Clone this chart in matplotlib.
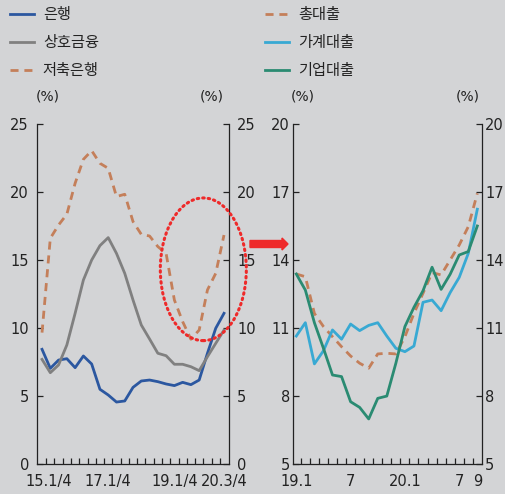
import matplotlib.pyplot as plt
import numpy as np
from matplotlib.patches import Ellipse, FancyArrow
from matplotlib.lines import Line2D

# Left panel: quarterly, 15.1/4 .. 20.3/4 (YoY growth, %)
bank = [8.44, 7.04, 7.65, 7.75, 7.09, 7.95, 7.36, 5.50, 5.08, 4.56, 4.64, 5.64,
        6.11, 6.18, 6.06, 5.89, 5.77, 6.01, 5.84, 6.18, 8.15, 9.99, 11.09]
mutual = [7.70, 6.72, 7.29, 8.76, 11.09, 13.54, 15.01, 16.07, 16.66, 15.50, 14.03, 12.07,
          10.23, 9.20, 8.15, 7.97, 7.34, 7.34, 7.16, 6.87, 7.90, 8.88, 9.86]
savings = [9.67, 16.61, 17.59, 18.38, 20.66, 22.42, 23.06, 22.13, 21.76, 19.68, 19.85, 17.84,
           16.90, 16.78, 16.00, 15.50, 12.07, 10.48, 9.18, 9.86, 12.81, 14.03, 16.85]
left_labels = ["15.1/4", "17.1/4", "19.1/4", "20.3/4"]
left_label_pos = [0.8, 8, 16, 22]

# Right panel: monthly, 19.1 .. 20.9 (savings bank loans, %)
total = [13.39, 13.27, 11.65, 11.07, 10.62, 10.18, 9.77, 9.45, 9.23, 9.86, 9.89,
         9.86, 10.62, 11.65, 12.54, 13.45, 13.35, 14.01, 14.67, 15.48, 16.95]
household = [10.65, 11.24, 9.42, 10.00, 10.92, 10.51, 11.18, 10.89, 11.12, 11.24, 10.65,
             10.11, 9.96, 10.21, 12.14, 12.24, 11.77, 12.57, 13.24, 14.30, 16.25]
corporate = [13.39, 12.68, 11.24, 10.11, 8.93, 8.86, 7.75, 7.50, 6.99, 7.90, 8.00,
             9.45, 11.07, 11.92, 12.65, 13.69, 12.71, 13.38, 14.23, 14.38, 15.51]
right_labels = ["19.1", "7", "20.1", "7", "9"]
right_label_pos = [0, 6, 12, 18, 20]

BG = "#D3D4D6"
C_BANK = "#2B57A0"
C_MUT = "#808080"
C_ORG = "#C47F5A"
C_HH = "#38A9D3"
C_CORP = "#2A8B72"
NUM_FONT = ["Liberation Sans Narrow", "DejaVu Sans"]
KR_FONT = ["Noto Sans CJK KR", "DejaVu Sans"]
DASH = (0, (2.9, 2.1))
LW = 2.0

fig = plt.figure(figsize=(5.05, 4.94), dpi=100, facecolor=BG)
ax1 = fig.add_axes([0.0739, 0.0607, 0.379, 0.6877], facecolor=BG)
ax2 = fig.add_axes([0.5808, 0.0607, 0.373, 0.6877], facecolor=BG)

xl = np.arange(len(bank))
ax1.plot(xl, bank, color=C_BANK, lw=LW)
ax1.plot(xl, mutual, color=C_MUT, lw=LW)
ax1.plot(xl, savings, color=C_ORG, lw=LW, linestyle=DASH)
ax1.set_xlim(-0.57, 22.57)
ax1.set_ylim(0, 25)
ax1.set_yticks([0, 5, 10, 15, 20, 25])
ax1.set_xticks(left_label_pos)
ax1.set_xticklabels(left_labels)
ax1.set_xticks(np.arange(len(bank) - 1) + 0.5, minor=True)

# highlight ellipse
ax1.add_patch(Ellipse((19.5, 14.33), 10.4, 10.5, fill=False, edgecolor="#EE2A2A",
                      lw=2.2, linestyle=(0, (0.5, 1.3)), capstyle="round",
                      clip_on=False, zorder=5))

xr = np.arange(len(total))
ax2.plot(xr, total, color=C_ORG, lw=LW, linestyle=DASH)
ax2.plot(xr, household, color=C_HH, lw=LW)
ax2.plot(xr, corporate, color=C_CORP, lw=LW)
ax2.set_xlim(-0.33, 20.48)
ax2.set_ylim(5, 20)
ax2.set_yticks([5, 8, 11, 14, 17, 20])
ax2.set_xticks(right_label_pos)
ax2.set_xticklabels(right_labels)
ax2.set_xticks(np.arange(len(total) - 1) + 0.5, minor=True)

for ax in (ax1, ax2):
    ax.spines["top"].set_visible(False)
    for s in ("left", "right", "bottom"):
        ax.spines[s].set_color("#222222")
        ax.spines[s].set_linewidth(0.9)
    ax.tick_params(axis="y", which="major", direction="in", length=4, width=0.9,
                   left=True, right=True, labelleft=True, labelright=True,
                   labelsize=10.5, pad=6, colors="#222222")
    ax.tick_params(axis="x", which="major", length=0, labelsize=10.5, pad=7,
                   colors="#222222")
    ax.tick_params(axis="x", which="minor", direction="in", length=4, width=0.9,
                   colors="#222222")
    for lab in ax.get_xticklabels() + ax.get_yticklabels():
        lab.set_family(NUM_FONT)
    for t in ax.yaxis.get_major_ticks():
        t.label2.set_family(NUM_FONT)

# right-hand labels of the right panel sit close to the edge
ax2.tick_params(axis="y", which="major", pad=2.5)

# (%) unit labels
for xp in (48, 212, 303, 468):
    fig.text(xp / 505, 1 - 97 / 494, "(%)", ha="center", va="center",
             fontsize=10, family=NUM_FONT, color="#222222")

# arrow between panels
fig.add_artist(FancyArrow(2.50, 2.50, 0.38, 0, width=0.07, head_width=0.12,
                          head_length=0.06, length_includes_head=True,
                          color="#EE2A2A", transform=fig.dpi_scale_trans))

# legends
h_left = [Line2D([], [], color=C_BANK, lw=LW),
          Line2D([], [], color=C_MUT, lw=LW),
          Line2D([], [], color=C_ORG, lw=LW, linestyle=DASH)]
h_right = [Line2D([], [], color=C_ORG, lw=LW, linestyle=DASH),
           Line2D([], [], color=C_HH, lw=LW),
           Line2D([], [], color=C_CORP, lw=LW)]
kw = dict(loc="upper left", frameon=False, borderpad=0, borderaxespad=0,
          handlelength=1.55, handletextpad=0.6, labelspacing=0.72,
          prop={"family": KR_FONT, "size": 11}, labelcolor="#222222")
fig.legend(h_left, ["은행", "상호금융", "저축은행"],
           bbox_to_anchor=(10 / 505, 1 - 6 / 494), **kw)
fig.legend(h_right, ["총대출", "가계대출", "기업대출"],
           bbox_to_anchor=(265 / 505, 1 - 6 / 494), **kw)

fig.savefig("out.png", dpi=100, facecolor=BG)
